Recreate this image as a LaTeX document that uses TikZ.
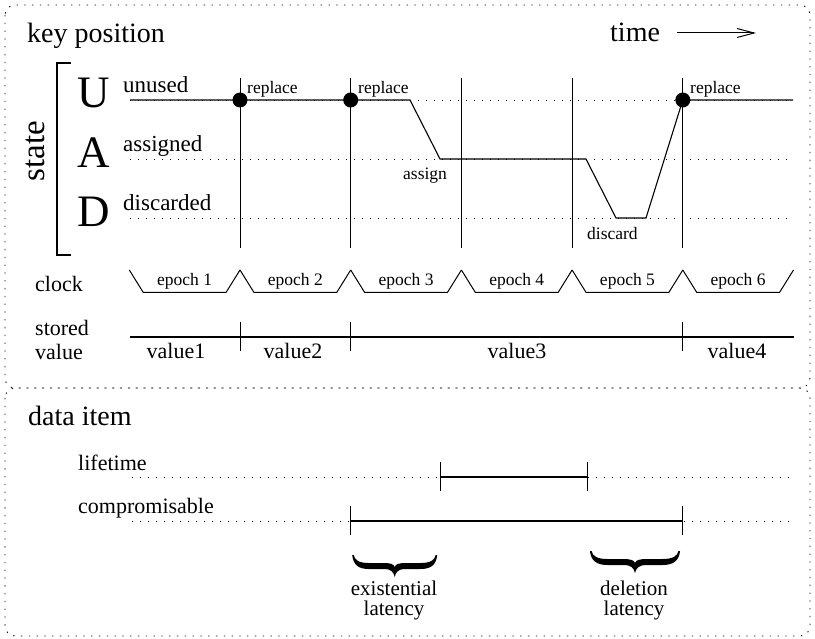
\documentclass[tikz,border=0pt]{standalone}
\usepackage{fontspec}
\setmainfont{Liberation Serif}
\usetikzlibrary{arrows.meta}

\newcommand{\fsize}[1]{\fontsize{#1}{#1}\selectfont}

\tikzset{
  frame/.style={line width=0.9pt, dash pattern=on 1.3pt off 6.5pt, rounded corners=10pt},
  level/.style={line width=0.9pt, dash pattern=on 1.3pt off 6.7pt},
  trace/.style={line width=1.1pt},
  dot/.style={circle, fill, inner sep=0pt, minimum size=15pt},
  tiny/.style={font=\fsize{17.5}, inner sep=0pt},
  label/.style={font=\fsize{22}, inner sep=0pt},
  big/.style={font=\fsize{28}, inner sep=0pt},
  letter/.style={font=\fsize{45}, inner sep=0pt, anchor=base},
  % heavy curly brace, tip pointing down
  curly/.pic={
    \fill (-42.5,0) .. controls (-41.5,10) and (-36,14) .. (-26,14) -- (-10,14)
      .. controls (-4,14) and (-1,17) .. (0,22)
      .. controls (1,17) and (4,14) .. (10,14) -- (26,14)
      .. controls (36,14) and (41.5,10) .. (42.5,0)
      -- (41,0) .. controls (40,5) and (36,8) .. (26,8) -- (12,8)
      .. controls (4,8) and (1,9) .. (0,12)
      .. controls (-1,9) and (-4,8) .. (-12,8) -- (-26,8)
      .. controls (-36,8) and (-40,5) .. (-41,0) -- cycle;
  },
}

\begin{document}
\begin{tikzpicture}[x=1pt,y=-1pt]
\useasboundingbox (0,0) rectangle (815,639);

% two frames
\draw[frame] (5,5) rectangle (810,388);
\draw[frame] (5,388) rectangle (810,636);

% key position part
\node[big, anchor=base west] (keypos) at (27,43) {key position};
\node[big, anchor=base west] (time) at (610,42) {time};
\coordinate (tail) at (677,33);
\coordinate (head) at (756,33);
\draw[line width=1pt, -{Straight Barb[length=17pt,width=9pt]}] (tail) -- (head); % time arrow

\node[font=\fsize{33}, inner sep=0pt, rotate=90] (state) at (35,151) {state};
\draw[line width=1.1pt] (71,63) -- (57,63) -- (57,255) -- (71,255); % bracket

\node[letter] (U) at (94,108) {U};
\node[letter] (A) at (94,168) {A};
\node[letter] (D) at (94,227) {D};
\node[font=\fsize{23}, inner sep=0pt, anchor=base west] (unused) at (123,93) {unused};
\node[font=\fsize{23}, inner sep=0pt, anchor=base west] (assigned) at (123,152) {assigned};
\node[font=\fsize{23}, inner sep=0pt, anchor=base west] (discarded) at (123,211) {discarded};

% levels
\foreach \y in {100,159,218}
  \draw[level] (130,\y) -- (793,\y);

% epoch boundaries
\foreach \x in {240,350.7,461.4,572.1,682.8}
  \draw[line width=1pt] (\x,78) -- (\x,248);

% state of the key position
\draw[trace] (130,100) -- (410,100) -- (440,159) -- (586,159) -- (616,218)
  -- (646,218) -- (682.8,100) -- (793,100);
\node[dot] (r1) at (240,100) {};
\node[dot] (r2) at (350.7,100) {};
\node[dot] (r3) at (682.8,100) {};
\node[tiny, anchor=base west] (rep1) at (247,94) {replace};
\node[tiny, anchor=base west] (rep2) at (358,94) {replace};
\node[tiny, anchor=base west] (rep3) at (690,94) {replace};
\node[tiny, anchor=base west] (assign) at (403,180) {assign};
\node[tiny, anchor=base west] (discard) at (587,240) {discard};

% clock
\node[label, anchor=base west] (clock) at (35,292) {clock};
\foreach \i in {1,...,6} {
  \pgfmathsetmacro{\x}{129.3+110.7*(\i-1)}
  \draw[line width=1pt] (\x,270) -- ++(14,22.5) -- ++(82.7,0) -- ++(14,-22.5);
  \node[tiny, anchor=base] (e\i) at (\x+55.35,286) {epoch \i};
}

% stored value
\node[label, anchor=base west] (stored) at (35,336) {stored};
\node[label, anchor=base west] (value) at (35,360) {value};
\draw[line width=1.1pt] (130,337) -- (794,337);
\foreach \x in {240,350.7,682.8}
  \draw[line width=1pt] (\x,322) -- (\x,351);
\node[label, anchor=base] (v1) at (176,359) {value1};
\node[label, anchor=base] (v2) at (293,359) {value2};
\node[label, anchor=base] (v3) at (517,359) {value3};
\node[label, anchor=base] (v4) at (737,359) {value4};

% data item part
\node[big, anchor=base west] (item) at (28,425) {data item};
\node[label, anchor=base west] (life) at (78,470) {lifetime};
\node[label, anchor=base west] (comp) at (78,513) {compromisable};

\draw[level] (132,477) -- (795,477);
\draw[level] (132,521) -- (795,521);
\draw[line width=1.1pt] (440,477) -- (587,477); % lifetime
\draw[line width=1pt] (440,462) -- (440,491) (587,462) -- (587,491);
\draw[line width=1.1pt] (350.7,521) -- (682.8,521); % compromisable
\draw[line width=1pt] (350.7,506) -- (350.7,535) (682.8,506) -- (682.8,535);

% latencies
\pic (exbrace) at (394.7,555) {curly};
\pic[xscale=1.06] (delbrace) at (635,551) {curly};
\node[font=\fontsize{21}{20}\selectfont, inner sep=0pt, align=center, anchor=north] (exist) at (394,581) {existential\\latency};
\node[font=\fontsize{21}{20}\selectfont, inner sep=0pt, align=center, anchor=north] (delete) at (634,581) {deletion\\latency};
\end{tikzpicture}
\end{document}
